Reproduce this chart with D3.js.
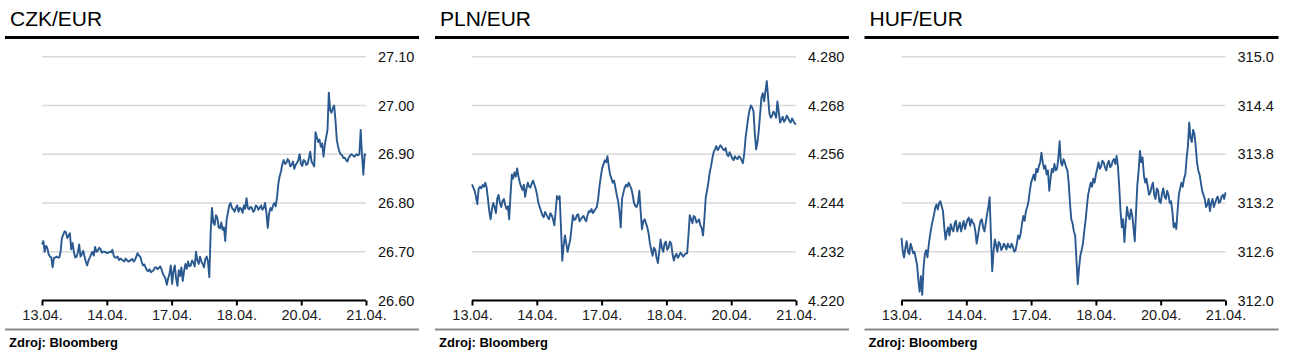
<!DOCTYPE html>
<html><head><meta charset="utf-8">
<script src="https://cdn.jsdelivr.net/npm/d3@7/dist/d3.min.js"></script>
<style>body{margin:0;background:#fff;}svg{display:block;}</style>
</head><body><svg id="c" width="1290" height="359"></svg>
<script>
const titles = ["CZK/EUR", "PLN/EUR", "HUF/EUR"];
const xLabels = ["13.04.", "14.04.", "17.04.", "18.04.", "20.04.", "21.04."];
const czkTicks = [26.60, 26.70, 26.80, 26.90, 27.00, 27.10];
const plnTicks = [4.220, 4.232, 4.244, 4.256, 4.268, 4.280];
const hufTicks = [312.0, 312.6, 313.2, 313.8, 314.4, 315.0];
const source = "Zdroj: Bloomberg";

const czk = [26.715,26.722,26.700,26.712,26.708,26.695,26.690,26.688,26.668,26.688,26.688,26.690,26.688,26.688,26.700,26.728,26.735,26.742,26.740,26.728,26.733,26.738,26.705,26.718,26.700,26.688,26.690,26.698,26.715,26.690,26.695,26.702,26.690,26.680,26.672,26.682,26.688,26.695,26.700,26.692,26.710,26.700,26.702,26.708,26.706,26.698,26.700,26.700,26.699,26.697,26.698,26.700,26.699,26.704,26.692,26.688,26.688,26.690,26.683,26.686,26.684,26.682,26.680,26.686,26.683,26.680,26.681,26.684,26.685,26.680,26.683,26.690,26.697,26.692,26.690,26.680,26.672,26.674,26.668,26.662,26.660,26.664,26.658,26.660,26.662,26.668,26.668,26.664,26.667,26.670,26.664,26.655,26.650,26.645,26.632,26.645,26.655,26.672,26.634,26.660,26.672,26.645,26.630,26.662,26.650,26.668,26.640,26.660,26.675,26.665,26.680,26.670,26.672,26.682,26.678,26.670,26.700,26.682,26.675,26.690,26.680,26.675,26.668,26.685,26.690,26.680,26.648,26.740,26.790,26.760,26.755,26.775,26.770,26.750,26.748,26.760,26.745,26.750,26.722,26.765,26.780,26.795,26.800,26.790,26.787,26.782,26.790,26.795,26.782,26.790,26.788,26.780,26.795,26.788,26.810,26.790,26.787,26.792,26.790,26.782,26.785,26.795,26.793,26.786,26.790,26.795,26.786,26.790,26.800,26.780,26.749,26.778,26.790,26.785,26.795,26.800,26.793,26.812,26.840,26.855,26.865,26.880,26.888,26.880,26.882,26.890,26.886,26.875,26.878,26.885,26.870,26.878,26.882,26.888,26.900,26.880,26.876,26.888,26.886,26.878,26.880,26.892,26.905,26.885,26.880,26.875,26.945,26.935,26.925,26.930,26.915,26.922,26.895,26.920,26.935,26.950,27.026,26.990,26.985,26.995,27.000,26.970,26.930,26.915,26.905,26.900,26.898,26.892,26.893,26.888,26.885,26.893,26.897,26.900,26.898,26.895,26.897,26.900,26.898,26.900,26.950,26.898,26.858,26.900,26.898];
const pln = [4.2486,4.2478,4.2470,4.2455,4.2437,4.2475,4.2480,4.2476,4.2484,4.2480,4.2490,4.2478,4.2450,4.2420,4.2400,4.2425,4.2440,4.2430,4.2415,4.2450,4.2460,4.2440,4.2430,4.2445,4.2450,4.2435,4.2425,4.2432,4.2400,4.2460,4.2510,4.2500,4.2515,4.2505,4.2525,4.2505,4.2490,4.2480,4.2472,4.2485,4.2455,4.2475,4.2490,4.2480,4.2478,4.2488,4.2495,4.2485,4.2475,4.2460,4.2440,4.2430,4.2420,4.2410,4.2405,4.2418,4.2412,4.2405,4.2400,4.2415,4.2410,4.2400,4.2385,4.2420,4.2457,4.2450,4.2457,4.2380,4.2298,4.2335,4.2360,4.2340,4.2320,4.2335,4.2350,4.2380,4.2410,4.2398,4.2400,4.2410,4.2412,4.2395,4.2400,4.2405,4.2408,4.2400,4.2395,4.2410,4.2420,4.2418,4.2425,4.2415,4.2420,4.2425,4.2430,4.2450,4.2480,4.2505,4.2525,4.2535,4.2545,4.2540,4.2555,4.2530,4.2510,4.2500,4.2490,4.2495,4.2478,4.2460,4.2445,4.2420,4.2380,4.2450,4.2465,4.2478,4.2485,4.2480,4.2490,4.2482,4.2475,4.2460,4.2440,4.2432,4.2430,4.2440,4.2470,4.2420,4.2375,4.2395,4.2400,4.2390,4.2380,4.2365,4.2340,4.2325,4.2310,4.2330,4.2325,4.2305,4.2292,4.2320,4.2350,4.2330,4.2320,4.2340,4.2345,4.2325,4.2330,4.2345,4.2340,4.2315,4.2298,4.2310,4.2315,4.2305,4.2310,4.2318,4.2314,4.2308,4.2312,4.2316,4.2316,4.2360,4.2410,4.2400,4.2390,4.2408,4.2405,4.2392,4.2395,4.2400,4.2385,4.2378,4.2360,4.2400,4.2453,4.2470,4.2490,4.2515,4.2530,4.2550,4.2565,4.2572,4.2580,4.2570,4.2575,4.2582,4.2578,4.2572,4.2570,4.2575,4.2560,4.2555,4.2565,4.2558,4.2550,4.2545,4.2555,4.2550,4.2548,4.2555,4.2552,4.2545,4.2538,4.2560,4.2600,4.2625,4.2650,4.2668,4.2680,4.2675,4.2665,4.2610,4.2572,4.2590,4.2620,4.2660,4.2700,4.2710,4.2690,4.2715,4.2740,4.2700,4.2660,4.2650,4.2655,4.2665,4.2660,4.2650,4.2690,4.2665,4.2638,4.2645,4.2652,4.2640,4.2645,4.2655,4.2650,4.2642,4.2638,4.2648,4.2642,4.2636,4.2633];
const huf = [312.77,312.60,312.53,312.65,312.73,312.60,312.57,312.70,312.65,312.58,312.60,312.52,312.44,312.25,312.11,312.30,312.07,312.40,312.57,312.62,312.53,312.68,312.80,312.90,312.98,313.05,313.14,313.18,313.12,313.20,313.22,313.16,313.10,312.90,312.75,312.85,312.90,312.80,312.94,312.88,312.85,312.95,312.98,312.85,312.90,312.96,312.85,312.92,312.98,312.88,312.94,313.00,313.02,312.92,313.00,312.96,312.94,312.85,312.70,312.80,312.90,312.98,313.00,312.90,312.85,312.95,313.06,313.15,313.27,312.80,312.36,312.60,312.75,312.68,312.60,312.72,312.70,312.62,312.65,312.70,312.67,312.63,312.70,312.66,312.65,312.70,312.66,312.60,312.62,312.70,312.80,312.76,312.83,312.95,313.04,312.98,313.10,313.15,313.22,313.35,313.45,313.50,313.55,313.48,313.62,313.58,313.65,313.70,313.82,313.70,313.62,313.66,313.55,313.60,313.35,313.50,313.62,313.58,313.68,313.60,313.62,313.75,313.96,313.70,313.66,313.74,313.70,313.64,313.60,313.45,313.20,313.00,312.95,312.85,312.80,312.50,312.20,312.40,312.55,312.62,312.70,312.85,312.98,313.15,313.30,313.38,313.45,313.40,313.50,313.45,313.55,313.62,313.70,313.62,313.65,313.72,313.70,313.64,313.60,313.68,313.72,313.64,313.66,313.72,313.74,313.68,313.78,313.65,313.40,313.10,312.90,313.00,312.72,312.95,313.15,313.05,313.00,313.12,313.05,312.90,312.73,313.10,313.43,313.60,313.84,313.70,313.76,313.55,313.45,313.50,313.40,313.30,313.33,313.40,313.45,313.30,313.25,313.38,313.35,313.22,313.20,313.32,313.38,313.28,313.25,313.35,313.30,313.20,313.22,313.10,312.90,312.95,312.88,313.10,313.30,313.38,313.45,313.40,313.50,313.55,313.75,313.90,314.19,314.00,313.95,314.10,314.05,313.90,313.70,313.60,313.55,313.45,313.35,313.30,313.25,313.15,313.18,313.25,313.10,313.20,313.25,313.15,313.20,313.25,313.28,313.20,313.22,313.28,313.30,313.25,313.33];

const panels = [
  {title: titles[0], data: czk, ticks: czkTicks, fmt: d3.format(".2f"), off: 0},
  {title: titles[1], data: pln, ticks: plnTicks, fmt: d3.format(".3f"), off: 430},
  {title: titles[2], data: huf, ticks: hufTicks, fmt: d3.format(".1f"), off: 859.5}
];

const svg = d3.select("#c");
const font = "'Liberation Sans', Arial, sans-serif";
const X0 = 42, X1 = 366, Y0 = 300.5, Y1 = 56.7;

panels.forEach(p => {
  const g = svg.append("g").attr("transform", `translate(${p.off},0)`);
  g.append("text").attr("x", 10).attr("y", 26).attr("font-family", font)
    .attr("font-size", 21).attr("fill", "#000").text(p.title);
  g.append("line").attr("x1", 5).attr("x2", 419).attr("y1", 37.5).attr("y2", 37.5)
    .attr("stroke", "#000").attr("stroke-width", 3);

  const y = d3.scaleLinear().domain([p.ticks[0], p.ticks[p.ticks.length - 1]]).range([Y0, Y1]);
  const x = d3.scaleLinear().domain([0, p.data.length - 1]).range([X0, X1]);
  const xt = d3.scalePoint().domain(xLabels).range([X0, X1]);

  g.append("g").selectAll("line").data(p.ticks.slice(1)).join("line")
    .attr("x1", X0).attr("x2", X1).attr("y1", d => y(d)).attr("y2", d => y(d))
    .attr("stroke", "#d9d9d9").attr("stroke-width", 1.5);

  const ya = g.append("g").attr("transform", `translate(${X1},0)`)
    .call(d3.axisRight(y).tickValues(p.ticks).tickFormat(p.fmt).tickSize(0).tickPadding(12));
  ya.select(".domain").remove();
  ya.selectAll("text").attr("font-family", font).attr("font-size", 14.5).attr("fill", "#111");

  g.append("path").datum(p.data)
    .attr("d", d3.line().x((d, i) => x(i)).y(d => y(d)))
    .attr("fill", "none").attr("stroke", "#2a5990").attr("stroke-width", 1.9)
    .attr("stroke-linejoin", "round");

  const xa = g.append("g").attr("transform", `translate(0,${Y0})`)
    .call(d3.axisBottom(xt).tickSize(5).tickPadding(4));
  xa.select(".domain").attr("stroke", "#000").attr("stroke-width", 2)
    .attr("d", `M${X0},0H${X1}`);
  xa.selectAll(".tick line").attr("stroke", "#000").attr("stroke-width", 2);
  xa.selectAll("text").attr("font-family", font).attr("font-size", 14.5).attr("fill", "#1a1a1a");

  g.append("line").attr("x1", 5).attr("x2", 419).attr("y1", 329.5).attr("y2", 329.5)
    .attr("stroke", "#888").attr("stroke-width", 2);
  g.append("text").attr("x", 9).attr("y", 347).attr("font-family", font)
    .attr("font-size", 13).attr("font-weight", "bold").attr("fill", "#000").text(source);
});
</script></body></html>
